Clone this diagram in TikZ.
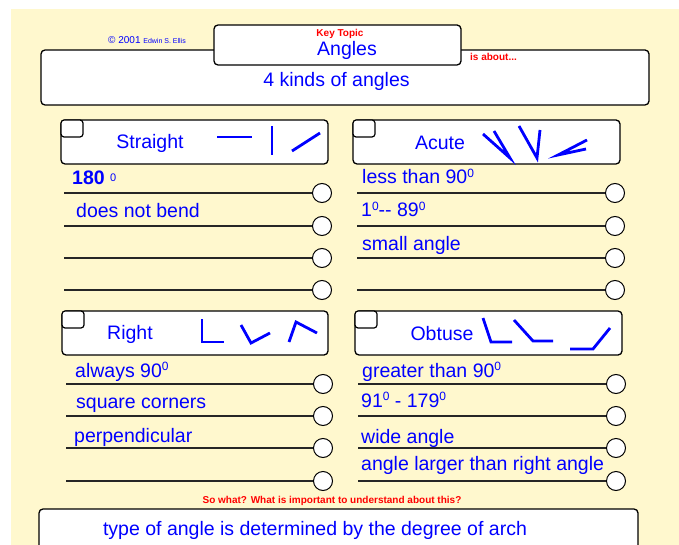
\documentclass[tikz,border=0pt]{standalone}
\usepackage{fontspec}
\setmainfont{Liberation Sans}
\definecolor{pad}{RGB}{255,248,206}
\definecolor{inkblue}{RGB}{0,0,255}
\definecolor{inkred}{RGB}{255,0,0}
\newcommand{\degr}{\raisebox{6.5pt}{\fontsize{12}{12}\selectfont 0}}
\newcommand{\bigtxt}{\fontsize{19.5}{22}\selectfont}

\begin{document}
\begin{tikzpicture}[x=1pt, y=-1pt,
  card/.style={draw, line width=1.3pt, rounded corners=4pt, fill=white, inner sep=0pt},
  tab/.style={draw, line width=1.2pt, rounded corners=3pt, fill=white,
              minimum width=22pt, minimum height=17pt, inner sep=0pt},
  head/.style={text=inkblue, font=\bigtxt, inner sep=0pt},
  note/.style={text=inkblue, font=\bigtxt, anchor=base west, inner sep=0pt},
  tag/.style={text=inkred, font=\fontsize{10}{12}\selectfont\bfseries, inner sep=0pt},
  ring/.style={draw, circle, fill=white, line width=1pt, minimum size=19pt, inner sep=0pt},
  rule/.style={line width=1.2pt, black!85},
  icon/.style={inkblue, line width=2.8pt},
]
  \useasboundingbox (0,0) rectangle (679,545);
  \clip (0,0) rectangle (679,545);
  \fill[pad] (11,9) rectangle (679,545);

  % key topic and what it is about
  \node[card, minimum width=608pt, minimum height=55pt] (about) at (345,77.5) {};
  \node[card, minimum width=247pt, minimum height=40pt] (topic) at (337.5,45) {};
  \node[tag, anchor=base] (keytag) at (340,37) {Key Topic};
  \node[head, anchor=base] (topicname) at (347,56) {Angles};
  \node[tag, anchor=base west] (abouttag) at (470,61) {is about...};
  \node[head, anchor=base] (abouttxt) at (336.5,87) {4 kinds of angles};
  \node[anchor=base west, inner sep=0pt, text=inkblue] (credit) at (108,44)
    {{\fontsize{10}{12}\selectfont © 2001} {\fontsize{7}{8}\selectfont Edwin S. Ellis}};

  % straight
  \node[card, minimum width=267pt, minimum height=44pt] (straight) at (194.5,142) {};
  \node[tab] (straighttab) at (72,128.5) {};
  \node[head] (straightlbl) at (150,143) {Straight};
  \draw[icon] (217,137) -- (252,137);
  \draw[icon] (272,126) -- (272,155);
  \draw[icon] (292,151) -- (320,133);
  \foreach \y [count=\i] in {193,226,258,290} {
    \coordinate (s\i-from) at (64,\y);
    \node[ring] (s\i) at (322,\y) {};
    \draw[rule] (s\i-from) -- (s\i.west);
  }
  \node[note] (s1txt) at (72,185) {\textbf{180} {\fontsize{11}{11}\selectfont\raisebox{3pt}{0}}};
  \node[note] (s2txt) at (76,218) {does not bend};

  % acute
  \node[card, minimum width=267pt, minimum height=44pt] (acute) at (486.5,142) {};
  \node[tab] (acutetab) at (364,128.5) {};
  \node[head] (acutelbl) at (440,143) {Acute};
  \draw[icon] (483,134) -- (510,158) -- (494,131);
  \draw[icon] (519,126) -- (537,158) -- (540,130);
  \draw[icon] (587,140) -- (558,155) -- (586,149);
  \foreach \y [count=\i] in {193,226,258,290} {
    \coordinate (a\i-from) at (357,\y);
    \node[ring] (a\i) at (615,\y) {};
    \draw[rule] (a\i-from) -- (a\i.west);
  }
  \node[note] (a1txt) at (362,184) {less than 90\degr};
  \node[note] (a2txt) at (361,217) {1\degr-{}- 89\degr};
  \node[note] (a3txt) at (362,250) {small angle};

  % right
  \node[card, minimum width=266pt, minimum height=44pt] (right) at (195,333) {};
  \node[tab] (righttab) at (73,319.5) {};
  \node[head] (rightlbl) at (130,334) {Right};
  \draw[icon] (202,319) -- (202,342) -- (224,342);
  \draw[icon] (241,325) -- (251,343) -- (270,333);
  \draw[icon] (289,342) -- (296,322) -- (317,333);
  \foreach \y [count=\i] in {384,416,448,481} {
    \coordinate (r\i-from) at (66,\y);
    \node[ring] (r\i) at (323,\y) {};
    \draw[rule] (r\i-from) -- (r\i.west);
  }
  \node[note] (r1txt) at (75,377) {always 90\degr};
  \node[note] (r2txt) at (76,408) {square corners};
  \node[note] (r3txt) at (74,442) {perpendicular};

  % obtuse
  \node[card, minimum width=267pt, minimum height=44pt] (obtuse) at (488.5,333) {};
  \node[tab] (obtusetab) at (366,319.5) {};
  \node[head] (obtuselbl) at (442,334) {Obtuse};
  \draw[icon] (483,318) -- (491,342) -- (512,342);
  \draw[icon] (514,320) -- (533,341) -- (553,341);
  \draw[icon] (570,349) -- (593,349) -- (610,328);
  \foreach \y [count=\i] in {384,416,448,481} {
    \coordinate (o\i-from) at (358,\y);
    \node[ring] (o\i) at (616,\y) {};
    \draw[rule] (o\i-from) -- (o\i.west);
  }
  \node[note] (o1txt) at (362,377) {greater than 90\degr};
  \node[note] (o2txt) at (361,407) {91\degr\ - 179\degr};
  \node[note] (o3txt) at (361,443) {wide angle};
  \node[note] (o4txt) at (361,470) {angle larger than right angle};

  % so what
  \node[tag, anchor=base] (sowhat) at (332,503)
    {So what? What is important to understand about this?};
  \node[card, minimum width=599pt, minimum height=60pt] (summary) at (338.5,539) {};
  \node[head, anchor=base] (summarytxt) at (315,535)
    {type of angle is determined by the degree of arch};
\end{tikzpicture}
\end{document}
